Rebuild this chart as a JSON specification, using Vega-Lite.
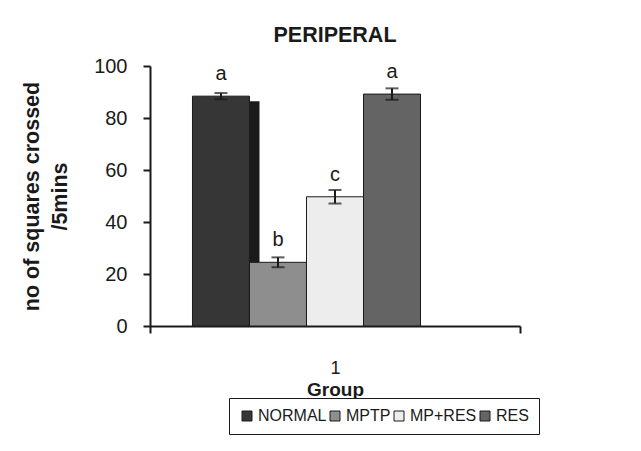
{
  "$schema": "https://vega.github.io/schema/vega-lite/v6.json",
  "width": 370,
  "height": 260,
  "autosize": "none",
  "padding": {"left": 150, "top": 66, "right": 121, "bottom": 125},
  "background": "white",
  "title": {"text": "PERIPERAL", "fontSize": 21.5, "fontWeight": "bold", "color": "#1a1a1a", "anchor": "middle", "offset": 10},
  "data": {
    "values": [
      {"group": "1", "series": "NORMAL", "value": 88.4, "err": 1.2, "sig": "a"},
      {"group": "1", "series": "MPTP", "value": 24.5, "err": 1.9, "sig": "b"},
      {"group": "1", "series": "MP+RES", "value": 49.7, "err": 2.6, "sig": "c"},
      {"group": "1", "series": "RES", "value": 89.2, "err": 2.2, "sig": "a"}
    ]
  },
  "encoding": {
    "x": {
      "field": "group", "type": "nominal",
      "scale": {"paddingInner": 0, "paddingOuter": 0},
      "axis": {"labelAngle": 0, "tickBand": "extent", "domainColor": "#1a1a1a", "domainWidth": 2, "tickColor": "#1a1a1a", "tickWidth": 2, "tickSize": 7, "labelFontSize": 18, "labelColor": "#1a1a1a", "labelPadding": 26, "titleFontSize": 19, "titleFontWeight": "bold", "titleColor": "#1a1a1a", "titlePadding": 3},
      "title": "Group"
    },
    "y": {
      "field": "value", "type": "quantitative",
      "scale": {"domain": [0, 100]},
      "axis": {"values": [0, 20, 40, 60, 80, 100], "grid": false, "domainColor": "#1a1a1a", "domainWidth": 2, "tickColor": "#1a1a1a", "tickWidth": 2, "tickSize": 7, "labelFontSize": 20, "labelColor": "#1a1a1a", "labelPadding": 16, "titleFontSize": 21.5, "titleFontWeight": "bold", "titleColor": "#1a1a1a", "titleLineHeight": 28, "titlePadding": 22},
      "title": ["no of squares crossed", "/5mins"]
    }
  },
  "layer": [
    {
      "transform": [{"filter": "datum.series === 'NORMAL'"}],
      "mark": {"type": "rule", "color": "#1a1a1a", "strokeWidth": 10, "strokeCap": "butt", "xOffset": -80.5, "yOffset": 5, "y2Offset": 0},
      "encoding": {"y2": {"datum": 0}}
    },
    {
      "mark": {"type": "bar", "stroke": "#1a1a1a", "strokeWidth": 1},
      "encoding": {
        "xOffset": {
          "field": "series", "type": "nominal",
          "scale": {"domain": ["NORMAL", "MPTP", "MP+RES", "RES", "_"], "paddingInner": 0, "paddingOuter": 0.745}
        },
        "color": {
          "field": "series", "type": "nominal",
          "scale": {"domain": ["NORMAL", "MPTP", "MP+RES", "RES"], "range": ["#363636", "#8e8e8e", "#ededed", "#646464"]},
          "legend": {"orient": "none", "legendX": 79, "legendY": 332, "direction": "horizontal", "title": null, "strokeColor": "#1a1a1a", "fillColor": "white", "padding": 10, "symbolType": "square", "symbolSize": 100, "symbolStrokeColor": "#1a1a1a", "symbolStrokeWidth": 1, "symbolOpacity": 1, "labelFontSize": 16, "labelColor": "#1a1a1a", "labelOffset": 3, "columnPadding": 0}
        }
      }
    },
    {
      "mark": {"type": "errorbar", "ticks": {"size": 13, "thickness": 2, "color": "#1a1a1a"}, "rule": {"strokeWidth": 2, "color": "#1a1a1a"}},
      "encoding": {
        "xOffset": {"field": "series", "type": "nominal"},
        "yError": {"field": "err"}
      }
    },
    {
      "mark": {"type": "text", "dy": -22, "fontSize": 20, "baseline": "middle", "color": "#1a1a1a"},
      "encoding": {
        "xOffset": {"field": "series", "type": "nominal"},
        "text": {"field": "sig"}
      }
    }
  ],
  "config": {"font": "Liberation Sans", "view": {"stroke": null}}
}
